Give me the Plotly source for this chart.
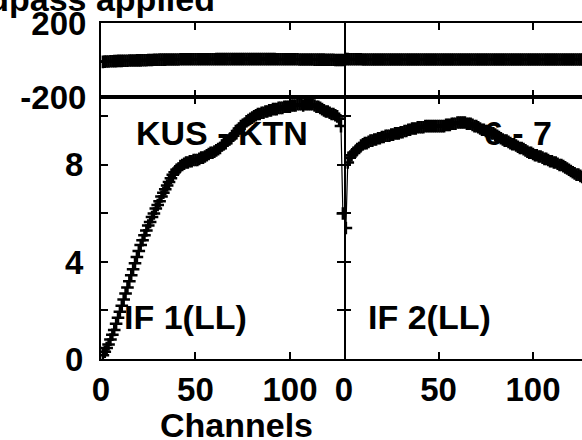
import plotly.graph_objects as go

channels = list(range(1, 129))

# IF 1 (LL), baseline KUS - KTN
amp_if1 = [0.15, 0.3, 0.45, 0.6, 0.8, 1.0, 1.2, 1.45, 1.7, 1.95,
           2.2, 2.45, 2.7, 2.95, 3.2, 3.45, 3.7, 3.95, 4.2, 4.45,
           4.7, 4.9, 5.1, 5.3, 5.5, 5.65, 5.85, 6.0, 6.2, 6.35,
           6.5, 6.7, 6.85, 7.0, 7.15, 7.3, 7.45, 7.6, 7.7, 7.8,
           7.85, 7.95, 8.0, 8.05, 8.1, 8.1, 8.15, 8.15, 8.2, 8.2,
           8.2, 8.25, 8.3, 8.3, 8.35, 8.4, 8.45, 8.5, 8.5, 8.55,
           8.6, 8.65, 8.7, 8.8, 8.85, 8.9, 9.0, 9.05, 9.1, 9.2,
           9.3, 9.4, 9.5, 9.6, 9.65, 9.7, 9.8, 9.85, 9.9, 9.95,
           10.0, 10.05, 10.1, 10.1, 10.15, 10.15, 10.2, 10.2, 10.25, 10.25,
           10.3, 10.3, 10.3, 10.35, 10.35, 10.35, 10.4, 10.4, 10.4, 10.4,
           10.45, 10.45, 10.45, 10.5, 10.5, 10.5, 10.45, 10.5, 10.5, 10.5,
           10.5, 10.5, 10.45, 10.4, 10.4, 10.35, 10.3, 10.25, 10.2, 10.2,
           10.15, 10.1, 10.1, 10.05, 10.0, 9.9, 9.6, 6.0]
phase_if1 = [-10, -9, -8, -8, -7, -7, -6, -6, -5, -5,
             -5, -4, -4, -4, -3, -3, -3, -3, -2, -2,
             -2, -1, -1, -1, 0, 0, 0, 1, 1, 1,
             2, 2, 2, 2, 3, 3, 3, 3, 3, 3,
             3, 4, 4, 4, 4, 4, 4, 4, 4, 4,
             4, 4, 4, 4, 4, 4, 4, 4, 4, 4,
             5, 5, 5, 5, 5, 5, 5, 5, 5, 5,
             5, 5, 5, 5, 5, 5, 5, 5, 5, 5,
             5, 5, 5, 5, 5, 5, 5, 5, 5, 5,
             5, 5, 4, 4, 4, 4, 4, 4, 4, 4,
             4, 4, 4, 4, 3, 3, 3, 3, 3, 3,
             3, 3, 2, 2, 2, 2, 2, 2, 1, 1,
             1, 1, 1, 0, 0, 0, 0, 0]

# IF 2 (LL), baseline 6 - 7
amp_if2 = [5.4, 8.1, 8.3, 8.4, 8.5, 8.55, 8.65, 8.7, 8.8, 8.85,
           8.9, 8.9, 8.95, 9.0, 9.0, 9.05, 9.05, 9.1, 9.1, 9.15,
           9.15, 9.2, 9.2, 9.2, 9.25, 9.25, 9.3, 9.3, 9.3, 9.35,
           9.35, 9.4, 9.4, 9.45, 9.45, 9.5, 9.5, 9.5, 9.55, 9.55,
           9.55, 9.55, 9.6, 9.6, 9.6, 9.6, 9.6, 9.6, 9.6, 9.6,
           9.6, 9.6, 9.6, 9.65, 9.65, 9.65, 9.7, 9.7, 9.7, 9.75,
           9.75, 9.75, 9.75, 9.75, 9.7, 9.7, 9.7, 9.65, 9.6, 9.6,
           9.55, 9.5, 9.45, 9.45, 9.4, 9.4, 9.35, 9.3, 9.3, 9.25,
           9.2, 9.15, 9.1, 9.05, 9.0, 9.0, 8.95, 8.9, 8.85, 8.85,
           8.8, 8.75, 8.7, 8.7, 8.65, 8.6, 8.55, 8.5, 8.5, 8.45,
           8.4, 8.4, 8.35, 8.35, 8.3, 8.25, 8.25, 8.2, 8.15, 8.15,
           8.1, 8.1, 8.05, 8.0, 8.0, 7.95, 7.9, 7.85, 7.8, 7.75,
           7.7, 7.65, 7.6, 7.6, 7.55, 7.5, 7.45, 7.4]
phase_if2 = [5, 5, 4, 4, 4, 4, 4, 4, 4, 3,
             3, 3, 3, 3, 3, 3, 3, 3, 3, 3,
             3, 3, 3, 3, 3, 3, 3, 3, 3, 3,
             3, 3, 3, 3, 3, 3, 3, 3, 3, 3,
             3, 3, 3, 3, 3, 3, 3, 3, 3, 3,
             3, 3, 3, 3, 3, 3, 3, 3, 3, 3,
             3, 3, 3, 3, 3, 3, 3, 3, 3, 3,
             3, 3, 3, 3, 3, 3, 3, 3, 3, 3,
             3, 3, 3, 3, 3, 3, 3, 3, 3, 3,
             3, 3, 3, 3, 3, 3, 3, 3, 3, 3,
             3, 3, 3, 3, 3, 3, 3, 3, 3, 3,
             3, 3, 3, 3, 3, 3, 3, 3, 3, 3,
             3, 3, 3, 3, 3, 3, 3, 3]

x_ticks = [0, 50, 100]
amp_ticks = [0, 2, 4, 6, 8, 10]
amp_ticktext = ['0', '', '4', '', '8', '']
phase_ticks = [-200, 200]
phase_ticktext = ['-200', '200']

FONT = 'Liberation Sans'
BIG = dict(family=FONT, size=33, color='black', weight='bold')

def trace(x, y, xa, ya):
    return go.Scatter(
        x=x, y=y, xaxis=xa, yaxis=ya,
        mode='lines+markers',
        line=dict(color='black', width=1.2),
        marker=dict(symbol='cross-thin', size=9, color='black',
                    line=dict(color='black', width=2.5)),
        showlegend=False,
    )

fig = go.Figure()
fig.add_trace(trace(channels, amp_if1, 'x', 'y'))
fig.add_trace(trace(channels, amp_if2, 'x2', 'y2'))
fig.add_trace(trace(channels, phase_if1, 'x3', 'y3'))
fig.add_trace(trace(channels, phase_if2, 'x4', 'y4'))

xsplit = 243 / 481
ysplit = 262 / 336

ax = dict(showline=True, linecolor='black', linewidth=2, showgrid=False, zeroline=False,
          ticks='inside', ticklen=7, tickwidth=2, tickcolor='black', tickfont=BIG,
          automargin=False)

fig.update_layout(
    width=582, height=440,
    margin=dict(l=101, r=0, t=23, b=81, pad=0),
    plot_bgcolor='white', paper_bgcolor='white',
    xaxis=dict(ax, domain=[0, xsplit], range=[0, 128.6], tickvals=x_ticks,
               mirror='allticks', anchor='y', ticklabelstandoff=0),
    xaxis2=dict(ax, domain=[xsplit, 1], range=[0, 125.9], tickvals=x_ticks,
                mirror='allticks', anchor='y2', ticklabelstandoff=0),
    xaxis3=dict(ax, domain=[0, xsplit], range=[0, 128.6], tickvals=x_ticks,
                showticklabels=False, mirror='allticks', anchor='y3'),
    xaxis4=dict(ax, domain=[xsplit, 1], range=[0, 125.9], tickvals=x_ticks,
                showticklabels=False, mirror='allticks', anchor='y4'),
    yaxis=dict(ax, domain=[0, ysplit], range=[0, 10.8], tickvals=amp_ticks,
               ticktext=amp_ticktext, mirror='allticks', anchor='x', ticklabelstandoff=9),
    yaxis2=dict(ax, domain=[0, ysplit], range=[0, 10.8], tickvals=amp_ticks,
                showticklabels=False, showline=False, anchor='x2'),
    yaxis3=dict(ax, domain=[ysplit, 1], range=[-200, 200], tickvals=phase_ticks,
                ticktext=phase_ticktext, ticks='', mirror=True, anchor='x3',
                ticklabelstandoff=6),
    yaxis4=dict(ax, domain=[ysplit, 1], range=[-200, 200], tickvals=phase_ticks,
                showticklabels=False, showline=False, ticks='', anchor='x4'),
)

def px(p):
    return (p - 101) / 481

def py(p):
    return (359 - p) / 336

labels = [
    ('KUS - KTN', 222, 132.5, 'center'),
    ('6 - 7', 517.5, 132.5, 'center'),
    ('IF 1(LL)', 185, 316.5, 'center'),
    ('IF 2(LL)', 429, 316.5, 'center'),
    ('Channels', 236.5, 424.5, 'center'),
    ('Bandpass applied', 217, -1, 'right'),
]
for text, x, y, anchor in labels:
    fig.add_annotation(text=text, x=px(x), y=py(y), xref='paper', yref='paper',
                       xanchor=anchor, yanchor='middle', showarrow=False,
                       font=dict(family=FONT, size=34, color='black', weight='bold'))

fig.write_html('out.html', config={'displayModeBar': False},
               post_script="document.body.style.margin='0';")
